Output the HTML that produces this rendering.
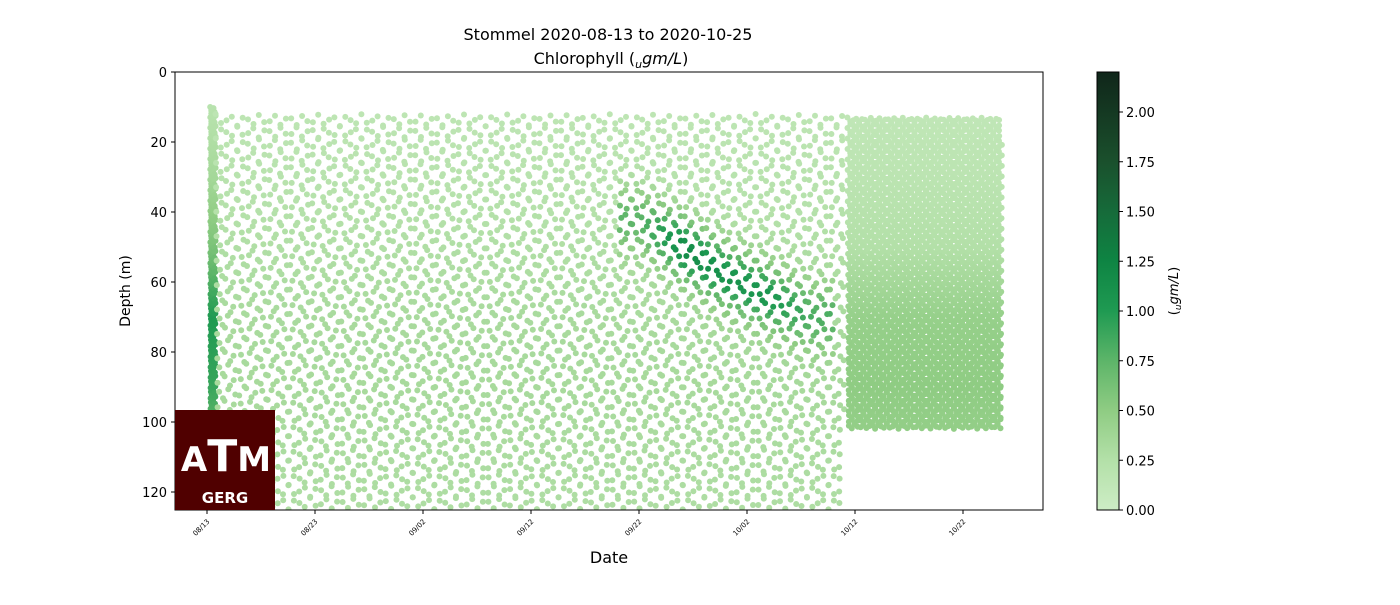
<!DOCTYPE html>
<html><head><meta charset="utf-8"><style>
body{margin:0;background:#fff;font-family:"Liberation Sans","DejaVu Sans",sans-serif}
svg text{font-family:"DejaVu Sans","Liberation Sans",sans-serif}
</style></head><body>
<svg id="chart" width="1400" height="600" xmlns="http://www.w3.org/2000/svg">
<defs>
<linearGradient id="cb" x1="0" y1="1" x2="0" y2="0">
<stop offset="0" stop-color="#cdedc5"/><stop offset="0.114" stop-color="#b3e0a8"/><stop offset="0.227" stop-color="#8fcc83"/><stop offset="0.34" stop-color="#5db569"/><stop offset="0.455" stop-color="#1f9a52"/><stop offset="0.57" stop-color="#0e8443"/><stop offset="0.68" stop-color="#166b3a"/><stop offset="0.8" stop-color="#1a4f2c"/><stop offset="1" stop-color="#10261a"/>
</linearGradient>
<clipPath id="pc"><rect x="175" y="72" width="868" height="438"/></clipPath>
</defs>
<text x="608" y="40" font-size="16" text-anchor="middle">Stommel 2020-08-13 to 2020-10-25</text>
<text x="611" y="64" font-size="16" text-anchor="middle">Chlorophyll (<tspan font-style="italic" font-size="11" dy="4">u</tspan><tspan font-style="italic" dy="-4">gm/L</tspan>)</text>
<g id="dots" clip-path="url(#pc)"></g>
<rect x="175" y="72" width="868" height="438" fill="none" stroke="#000" stroke-width="1"/>
<g id="yaxis"></g>
<g id="xaxis"></g>
<text transform="translate(130,291) rotate(-90)" font-size="14" text-anchor="middle">Depth (m)</text>
<text x="609" y="563" font-size="16" text-anchor="middle">Date</text>
<g>
<rect x="175" y="410" width="100" height="100" fill="#500000"/>
<text x="226" y="471" font-size="34" font-weight="bold" fill="#fff" text-anchor="middle" font-family="Liberation Serif,serif">A<tspan font-size="44">T</tspan>M</text>
<text x="225" y="503" font-size="15" font-weight="bold" fill="#fff" text-anchor="middle">GERG</text>
</g>
<rect x="1097" y="72" width="22" height="438" fill="url(#cb)" stroke="#000" stroke-width="1"/>
<g id="cbaxis"></g>
<text transform="translate(1178,291) rotate(-90)" font-size="13" text-anchor="middle">(<tspan font-style="italic" font-size="9" dy="3">u</tspan><tspan font-style="italic" dy="-3">gm/L</tspan>)</text>
</svg>
<script>
const yTicks=[0,20,40,60,80,100,120];
const xTickLabels=["08/13","08/23","09/02","09/12","09/22","10/02","10/12","10/22"];
const xTickDays=[0,10,20,30,40,50,60,70];
const cbTicks=[0,0.25,0.5,0.75,1.0,1.25,1.5,1.75,2.0];
const segStart=[0.3,0.8,59.3];
const segEnd=[0.8,59.0,73.6];
const segMinDepth=[10,12,13];
const segMaxDepth=[125,125,102];
const segYoDays=[0.1,0.5,0.27];
const segDepthStep=[3,7,3];
const profileDepths=[10,30,50,70,90,110,125];
const profileChl0=[0.2,0.35,0.6,1.0,0.9,0.6,0.5];
const profileChl1=[0.15,0.2,0.27,0.32,0.33,0.3,0.28];
const profileChl2=[0.12,0.17,0.25,0.45,0.5,0.45,0.4];
const bloomDay=[40,44,48,52,56];
const bloomDepth=[42,50,58,64,70];
const bloomChl=[0.5,0.9,0.8,0.75,0.5];
const X=d=>207+d*10.8, Y=m=>72+m*3.5, C=v=>510-v*199;
function interp(xs,ys,x){if(x<=xs[0])return ys[0];for(let i=1;i<xs.length;i++)if(x<=xs[i]){const f=(x-xs[i-1])/(xs[i]-xs[i-1]);return ys[i-1]+f*(ys[i]-ys[i-1]);}return ys[ys.length-1];}
const cStops=[0,0.25,0.5,0.75,1.0,1.25,1.5,1.75,2.2];
const cCols=[[205,237,197],[179,224,168],[143,204,131],[93,181,105],[31,154,82],[14,132,67],[22,107,58],[26,79,44],[16,38,26]];
function col(v){let i=0;while(i<cStops.length-2&&v>cStops[i+1])i++;const f=Math.max(0,Math.min(1,(v-cStops[i])/(cStops[i+1]-cStops[i])));const a=cCols[i],b=cCols[i+1];return`rgb(${a.map((c,k)=>Math.round(c+f*(b[k]-c))).join(',')})`;}
const profiles=[profileChl0,profileChl1,profileChl2];
const g=document.getElementById('dots');
let html='';
for(let s=0;s<segStart.length;s++){
 const yo=segYoDays[s],lo=segMinDepth[s],hi=segMaxDepth[s];
 const n=Math.max(20,Math.round(2*(hi-lo)/segDepthStep[s]))+0.37;
 const dt=yo/n;
 for(let t=segStart[s];t<segEnd[s];t+=dt){
  const ph=((t-segStart[s])/yo)%1;
  const d=lo+(hi-lo)*(ph<0.5?ph*2:2-ph*2);
  let v=interp(profileDepths,profiles[s],d);
  if(t>=bloomDay[0]-2&&t<=bloomDay[bloomDay.length-1]+2){
   const bd=interp(bloomDay,bloomDepth,t),bc=interp(bloomDay,bloomChl,t);
   v+=bc*Math.exp(-Math.pow((d-bd)/9,2));
  }
  html+=`<circle cx="${X(t).toFixed(1)}" cy="${Y(d).toFixed(1)}" r="3" fill="${col(v)}"/>`;
 }
}
g.innerHTML=html;
g.querySelectorAll('circle').forEach(c=>{});
const ya=document.getElementById('yaxis');let yh='';
yTicks.forEach(v=>{yh+=`<line x1="171" x2="175" y1="${Y(v)}" y2="${Y(v)}" stroke="#000"/><text x="167" y="${Y(v)+5}" font-size="13" text-anchor="end">${v}</text>`;});
ya.innerHTML=yh;
const xa=document.getElementById('xaxis');let xh='';
xTickDays.forEach((d,i)=>{const x=X(d);xh+=`<line x1="${x}" x2="${x}" y1="510" y2="514" stroke="#000"/><text transform="translate(${x+3},522) rotate(-45)" font-size="7" text-anchor="end">${xTickLabels[i]}</text>`;});
xa.innerHTML=xh;
const cba=document.getElementById('cbaxis');let ch='';
cbTicks.forEach(v=>{ch+=`<line x1="1119" x2="1123" y1="${C(v)}" y2="${C(v)}" stroke="#000"/><text x="1126" y="${C(v)+5}" font-size="13">${v.toFixed(2)}</text>`;});
cba.innerHTML=ch;
</script>
</body></html>
